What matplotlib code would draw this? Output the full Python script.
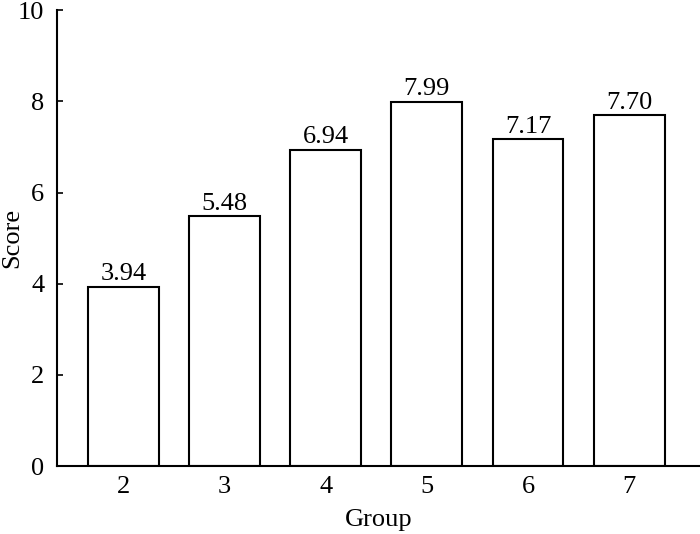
import numpy as np
import matplotlib.pyplot as plt

groups = ["2", "3", "4", "5", "6", "7"]
scores = [3.94, 5.48, 6.94, 7.99, 7.17, 7.70]
labels = ["3.94", "5.48", "6.94", "7.99", "7.17", "7.70"]

plt.rcParams['font.family'] = 'Liberation Serif'
plt.rcParams["font.size"] = 19

fig = plt.figure(figsize=(7, 5.34), dpi=100)
ax = fig.add_axes([0.081, 0.127, 0.919, 0.854])

x = np.arange(len(groups))
bars = ax.bar(x, scores, width=0.7, color="white", edgecolor="black", linewidth=1.5)

for b, lab in zip(bars, labels):
    ax.annotate(lab, (b.get_x() + b.get_width() / 2, b.get_height()),
                xytext=(0, 1), textcoords="offset points",
                ha="center", va="bottom", fontsize=19)

ax.set_xticks(x)
ax.set_xticklabels(groups)
ax.set_xlim(-0.66, 5.7)
ax.set_ylim(0, 10)
ax.set_yticks([0, 2, 4, 6, 8, 10])

for s in ["top", "right"]:
    ax.spines[s].set_visible(False)
for s in ["left", "bottom"]:
    ax.spines[s].set_linewidth(1.5)

ax.tick_params(axis="x", length=0, pad=7)
ax.tick_params(axis="y", direction="in", length=4, width=1.2, pad=9)

ax.set_xlabel("Group", fontsize=19, labelpad=8)
ax.set_ylabel("Score", fontsize=19)
ax.yaxis.set_label_coords(-0.052, 0.5)

plt.savefig("out.png", dpi=100)
